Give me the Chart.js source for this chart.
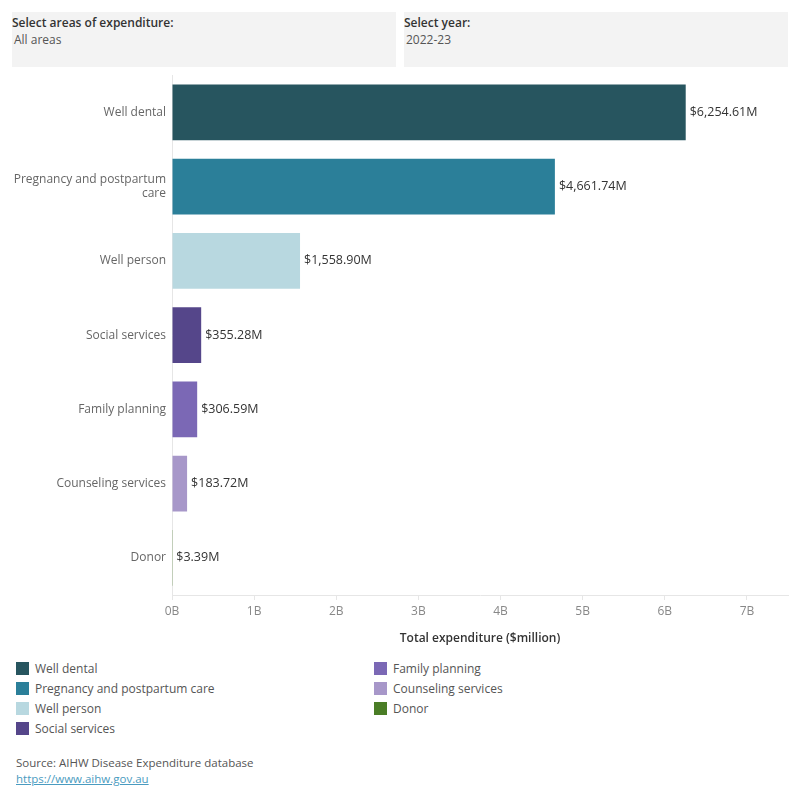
<!DOCTYPE html>
<html>
<head>
<meta charset="utf-8">
<script src="https://cdn.jsdelivr.net/npm/chart.js@4"></script>
<style>
  body { margin: 0; width: 800px; height: 800px; background: #fff; font-family: "Open Sans", sans-serif; position: relative; overflow: hidden; }
  .filter { position: absolute; top: 12px; height: 55px; background: #f3f3f3; font-size: 12px; }
  .filter .lbl { position: absolute; left: 0; top: 2px; color: #333; font-weight: 600; }
  .filter .val { position: absolute; left: 2px; top: 19px; color: #555; }
  #chartWrap { position: absolute; left: 0; top: 62px; width: 800px; height: 588px; }
  .legend { position: absolute; top: 658px; font-size: 12px; color: #555; }
  .legend div { height: 20px; line-height: 17px; display: flex; align-items: center; }
  .legend span.sw { display: inline-block; width: 13px; height: 13px; margin-right: 6px; }
  .source { position: absolute; left: 16px; top: 755px; font-size: 11.5px; color: #555; line-height: 16px; }
  .source a { color: #4a9bc0; }
</style>
</head>
<body>
<div class="filter" style="left:12px;width:384px;"><div class="lbl">Select areas of expenditure:</div><div class="val">All areas</div></div>
<div class="filter" style="left:404px;width:384px;"><div class="lbl">Select year:</div><div class="val">2022-23</div></div>
<div id="chartWrap"><canvas id="chart"></canvas></div>
<div class="legend" id="legendA" style="left:16px;"></div>
<div class="legend" id="legendB" style="left:374px;"></div>
<div class="source">Source: AIHW Disease Expenditure database<br><a href="#">https://www.aihw.gov.au</a></div>
<script>
// data ($ million, 2022-23)
const categories = ['Well dental', 'Pregnancy and postpartum care', 'Well person', 'Social services', 'Family planning', 'Counseling services', 'Donor'];
const expenditure = [6254.61, 4661.74, 1558.90, 355.28, 306.59, 183.72, 3.39];
const colours = ['#27555f', '#2b7f99', '#b8d8e0', '#55468a', '#7b68b5', '#a797c9', '#4a7d26'];
const tickLabels = ['0B', '1B', '2B', '3B', '4B', '5B', '6B', '7B'];

// legend, two columns
categories.forEach((c, i) => {
  const row = document.createElement('div');
  row.innerHTML = '<span class="sw" style="background:' + colours[i] + '"></span>' + c;
  document.getElementById(i < 4 ? 'legendA' : 'legendB').appendChild(row);
});

const valueLabels = {
  id: 'valueLabels',
  afterDatasetsDraw(chart) {
    const ctx = chart.ctx;
    const meta = chart.getDatasetMeta(0);
    ctx.save();
    ctx.font = '12.5px "Open Sans"';
    ctx.fillStyle = '#333';
    ctx.textBaseline = 'middle';
    meta.data.forEach((bar, i) => {
      const txt = '$' + expenditure[i].toLocaleString('en-US', { minimumFractionDigits: 2, maximumFractionDigits: 2 }) + 'M';
      ctx.fillText(txt, bar.x + 4, bar.y);
    });
    ctx.restore();
  }
};

const labelsWrapped = categories.map(c => c === 'Pregnancy and postpartum care' ? ['Pregnancy and postpartum', 'care'] : c);

new Chart(document.getElementById('chart'), {
  type: 'bar',
  data: {
    labels: labelsWrapped,
    datasets: [{
      data: expenditure,
      backgroundColor: colours,
      barPercentage: 0.75,
      categoryPercentage: 1
    }]
  },
  options: {
    indexAxis: 'y',
    responsive: true,
    maintainAspectRatio: false,
    animation: false,
    layout: { padding: { top: 5, right: 12, left: 0, bottom: 0 } },
    plugins: { legend: { display: false }, tooltip: { enabled: false } },
    scales: {
      x: {
        min: 0,
        max: 7500,
        afterFit: s => { s.height = 55; },
        afterBuildTicks: s => { s.ticks = tickLabels.map((t, i) => ({ value: i * 1000 })); },
        ticks: {
          callback: (v) => tickLabels[v / 1000],
          color: '#888',
          font: { family: 'Open Sans', size: 12 },
          padding: 4
        },
        grid: { drawOnChartArea: false, drawTicks: true, tickLength: 5, color: '#e6e6e6' },
        border: { display: true, color: '#e6e6e6' },
        title: {
          display: true,
          text: 'Total expenditure ($million)',
          color: '#333',
          font: { family: 'Open Sans', size: 12, weight: '600' },
          padding: { top: 4 }
        }
      },
      y: {
        afterFit: s => { s.width = 172; },
        ticks: {
          color: '#666',
          font: { family: 'Open Sans', size: 12 },
          padding: 6
        },
        grid: { drawOnChartArea: false, drawTicks: false },
        border: { display: true, color: '#e6e6e6' }
      }
    }
  },
  plugins: [valueLabels]
});
</script>
</body>
</html>
